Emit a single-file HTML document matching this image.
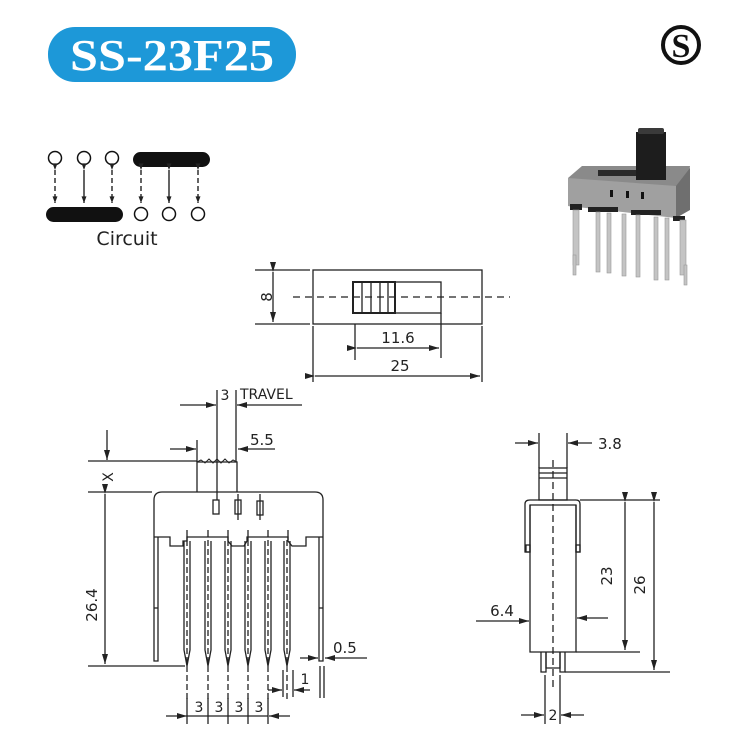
<!DOCTYPE html>
<html><head><meta charset="utf-8"><style>
html,body{margin:0;padding:0;background:#fff;}
svg{display:block;}
text{font-family:"DejaVu Sans","Liberation Sans",sans-serif;fill:#222;}
</style></head><body>
<svg width="735" height="744" viewBox="0 0 735 744" xmlns="http://www.w3.org/2000/svg">
<defs>
<marker id="a" viewBox="0 0 10 6" refX="10" refY="3" markerWidth="10" markerHeight="6" orient="auto" markerUnits="userSpaceOnUse"><path d="M0,0 L10,3 L0,6 Z" fill="#222"/></marker>
<marker id="s" viewBox="0 0 8 6" refX="8" refY="3" markerWidth="7" markerHeight="5" orient="auto" markerUnits="userSpaceOnUse"><path d="M0,0 L8,3 L0,6 Z" fill="#222"/></marker>
</defs>
<!-- title -->
<rect x="48" y="27" width="248" height="55" rx="27" fill="#1d98d8"/>
<text x="70" y="70" textLength="204" lengthAdjust="spacingAndGlyphs" style="font-family:'Liberation Serif',serif;font-weight:bold;font-size:44px;fill:#fff">SS-23F25</text>
<!-- S logo -->
<circle cx="681" cy="45" r="18" fill="none" stroke="#111" stroke-width="4"/>
<text x="681" y="57" text-anchor="middle" style="font-family:'Liberation Serif',serif;font-weight:bold;font-size:34px;fill:#111">S</text>

<!-- circuit -->
<g stroke="#111" stroke-width="1.5" fill="none">
<circle cx="55" cy="158" r="6.5"/><circle cx="84" cy="158" r="6.5"/><circle cx="112" cy="158" r="6.5"/>
<circle cx="141" cy="214" r="6.5"/><circle cx="169" cy="214" r="6.5"/><circle cx="198" cy="214" r="6.5"/>
</g>
<rect x="133" y="152" width="77" height="15" rx="7.5" fill="#111"/>
<rect x="46" y="207" width="77" height="15" rx="7.5" fill="#111"/>
<g stroke="#111" stroke-width="1.3">
<line x1="55" y1="170" x2="55" y2="203" stroke-dasharray="5,3" marker-start="url(#s)" marker-end="url(#s)"/>
<line x1="84" y1="170" x2="84" y2="203" marker-start="url(#s)" marker-end="url(#s)"/>
<line x1="112" y1="170" x2="112" y2="203" stroke-dasharray="5,3" marker-start="url(#s)" marker-end="url(#s)"/>
<line x1="141" y1="170" x2="141" y2="203" stroke-dasharray="5,3" marker-start="url(#s)" marker-end="url(#s)"/>
<line x1="169" y1="170" x2="169" y2="203" marker-start="url(#s)" marker-end="url(#s)"/>
<line x1="198" y1="170" x2="198" y2="203" stroke-dasharray="5,3" marker-start="url(#s)" marker-end="url(#s)"/>
</g>
<text x="127" y="245" text-anchor="middle" font-size="19">Circuit</text>

<!-- photo -->
<g>
<polygon points="568,178 582,166 690,166 688,182 678,216 568,206" fill="#8a8a8a"/>
<polygon points="568,178 676,186 676,218 568,206" fill="#a0a0a0"/>
<polygon points="676,186 690,168 690,210 676,218" fill="#6f6f6f"/>
<rect x="598" y="170" width="40" height="6" fill="#2a2a2a"/>
<rect x="636" y="132" width="30" height="48" fill="#1d1d1d"/>
<rect x="638" y="128" width="26" height="6" rx="2" fill="#3a3a3a"/>
<rect x="610" y="190" width="3" height="7" fill="#111"/><rect x="626" y="191" width="3" height="7" fill="#111"/><rect x="641" y="192" width="3" height="7" fill="#111"/>
<rect x="570" y="204" width="12" height="6" fill="#222"/><rect x="588" y="207" width="30" height="5" fill="#222"/><rect x="631" y="210" width="30" height="5" fill="#222"/><rect x="673" y="216" width="12" height="5" fill="#222"/>
<g fill="#c4c4c4" stroke="#999" stroke-width="0.6">
<rect x="573" y="210" width="6" height="55"/><rect x="573" y="255" width="3" height="20"/>
<rect x="596" y="212" width="4" height="60"/><rect x="607" y="213" width="4" height="60"/><rect x="622" y="214" width="4" height="62"/>
<rect x="636" y="215" width="4" height="62"/><rect x="654" y="217" width="4" height="63"/><rect x="665" y="218" width="4" height="62"/>
<rect x="680" y="220" width="6" height="55"/><rect x="684" y="265" width="3" height="20"/>
</g>
</g>

<!-- top view -->
<g stroke="#222" stroke-width="1.3" fill="none">
<rect x="313" y="270" width="169" height="54"/>
<rect x="353" y="282" width="88" height="31"/>
<rect x="353" y="282" width="42" height="31" stroke-width="2"/>
<line x1="362" y1="282" x2="362" y2="313"/><line x1="371" y1="282" x2="371" y2="313"/><line x1="380" y1="282" x2="380" y2="313"/><line x1="388" y1="282" x2="388" y2="313"/>
<line x1="293" y1="297" x2="510" y2="297" stroke-dasharray="7,5"/>
<line x1="255" y1="270" x2="310" y2="270"/><line x1="255" y1="324" x2="310" y2="324"/>
<line x1="273" y1="272" x2="273" y2="322" marker-start="url(#a)" marker-end="url(#a)"/>
<line x1="355" y1="324" x2="355" y2="360"/><line x1="441" y1="313" x2="441" y2="358"/>
<line x1="357" y1="348" x2="439" y2="348" marker-start="url(#a)" marker-end="url(#a)"/>
<line x1="313" y1="326" x2="313" y2="382"/><line x1="482" y1="326" x2="482" y2="382"/>
<line x1="315" y1="376" x2="480" y2="376" marker-start="url(#a)" marker-end="url(#a)"/>
</g>
<text x="267" y="297" font-size="15" text-anchor="middle" transform="rotate(-90 267 297)" dy="5">8</text>
<text x="398" y="343" font-size="15" text-anchor="middle">11.6</text>
<text x="400" y="371" font-size="15" text-anchor="middle">25</text>

<!-- front view -->
<g stroke="#222" stroke-width="1.3" fill="none">
<path d="M154,537 L154,500 Q154,492 162,492 L315,492 Q323,492 323,500 L323,537"/>
<path d="M154,537 L170,537 L170,546 L183,546 L183,541 L187,541 L187,537 L228,537 L228,541 L232,546 L244,546 L247,541 L247,537 L288,537 L288,541 L292,546 L306,546 L306,537 L323,537"/>
<path d="M154,537 L154,661 L158,661 L158,537"/>
<path d="M319,537 L319,661 L323,661 L323,537"/>
<line x1="154" y1="608" x2="158" y2="608"/><line x1="319" y1="608" x2="323" y2="608"/>
<path d="M197,492 L197,462 L237,462 L237,492"/>
<path d="M197,462 L201,460 L205,463 L209,459 L213,463 L217,459 L221,463 L225,459 L229,463 L233,460 L237,462" stroke-width="1"/>
<rect x="213" y="500" width="6" height="14"/><rect x="235" y="500" width="6" height="14"/><rect x="257" y="501" width="6" height="14"/>
<line x1="238" y1="494" x2="238" y2="520"/><line x1="260" y1="494" x2="260" y2="520"/>
<line x1="187" y1="530" x2="187" y2="540"/><line x1="228" y1="530" x2="228" y2="540"/><line x1="208" y1="530" x2="208" y2="537"/>
<line x1="248" y1="530" x2="248" y2="540"/><line x1="288" y1="530" x2="288" y2="540"/><line x1="268" y1="530" x2="268" y2="537"/>
<g id="pin">
<path d="M184,541 L184,650 L187,666 L190,650 L190,541"/>
</g>
<use href="#pin" x="21"/><use href="#pin" x="41"/><use href="#pin" x="61"/><use href="#pin" x="81"/><use href="#pin" x="100"/>
<g stroke-dasharray="6,3">
<line x1="187" y1="540" x2="187" y2="700"/><line x1="208" y1="540" x2="208" y2="700"/><line x1="228" y1="540" x2="228" y2="700"/>
<line x1="248" y1="540" x2="248" y2="700"/><line x1="268" y1="540" x2="268" y2="700"/><line x1="287" y1="540" x2="287" y2="700"/>
</g>
<line x1="187" y1="698" x2="187" y2="724"/><line x1="208" y1="698" x2="208" y2="724"/><line x1="228" y1="698" x2="228" y2="724"/><line x1="248" y1="698" x2="248" y2="724"/><line x1="268" y1="698" x2="268" y2="724"/>
<line x1="166" y1="716" x2="187" y2="716" marker-end="url(#a)"/>
<line x1="290" y1="716" x2="269" y2="716" marker-end="url(#a)"/>
<line x1="187" y1="716" x2="268" y2="716"/>
<!-- dims -->
<line x1="88" y1="492" x2="152" y2="492"/><line x1="88" y1="666" x2="185" y2="666"/>
<line x1="105" y1="494" x2="105" y2="664" marker-start="url(#a)" marker-end="url(#a)"/>
<line x1="88" y1="461" x2="197" y2="461"/>
<line x1="107" y1="430" x2="107" y2="460" marker-end="url(#a)"/>
<line x1="217" y1="390" x2="217" y2="500"/><line x1="236" y1="390" x2="236" y2="462"/>
<line x1="180" y1="405" x2="216" y2="405" marker-end="url(#a)"/>
<line x1="302" y1="405" x2="237" y2="405" marker-end="url(#a)"/>
<line x1="197" y1="440" x2="197" y2="462"/>
<line x1="170" y1="449" x2="196" y2="449" marker-end="url(#a)"/>
<line x1="275" y1="449" x2="238" y2="449" marker-end="url(#a)"/>
<line x1="283" y1="670" x2="283" y2="697"/><line x1="293" y1="670" x2="293" y2="697"/>
<line x1="268" y1="690" x2="282" y2="690" marker-end="url(#a)"/>
<line x1="310" y1="690" x2="294" y2="690" marker-end="url(#a)"/>
<line x1="320" y1="666" x2="320" y2="698"/><line x1="324" y1="666" x2="324" y2="698"/>
<line x1="300" y1="658" x2="318" y2="658" marker-end="url(#a)"/>
<line x1="367" y1="658" x2="325" y2="658" marker-end="url(#a)"/>
</g>
<text x="225" y="400" font-size="14" text-anchor="middle">3</text>
<text x="240" y="399" font-size="14">TRAVEL</text>
<text x="250" y="445" font-size="15">5.5</text>
<text x="113" y="477" font-size="14" text-anchor="middle" transform="rotate(-90 113 477)" dy="0">X</text>
<text x="97" y="605" font-size="15" text-anchor="middle" transform="rotate(-90 97 605)">26.4</text>
<text x="199" y="712" font-size="14" text-anchor="middle">3</text>
<text x="219" y="712" font-size="14" text-anchor="middle">3</text>
<text x="239" y="712" font-size="14" text-anchor="middle">3</text>
<text x="259" y="712" font-size="14" text-anchor="middle">3</text>
<text x="305" y="684" font-size="14" text-anchor="middle">1</text>
<text x="333" y="653" font-size="15">0.5</text>

<!-- side view -->
<g stroke="#222" stroke-width="1.3" fill="none">
<rect x="539" y="468" width="28" height="32"/>
<line x1="539" y1="473" x2="567" y2="473"/><line x1="539" y1="478" x2="567" y2="478"/>
<path d="M525,504 Q525,500 530,500 L576,500 Q580,500 580,504 L580,552 L576,552 L576,505 L530,505 L530,552 L525,552 Z"/>
<rect x="526" y="545" width="4" height="7"/><rect x="576" y="545" width="4" height="7"/>
<path d="M530,505 L530,652 L576,652 L576,505"/>
<path d="M541,652 L541,672 L546,672 L546,652"/><path d="M560,652 L560,672 L565,672 L565,652"/>
<path d="M546,652 L546,668 L560,668 L560,652"/>
<line x1="553" y1="460" x2="553" y2="690" stroke-dasharray="7,4"/>
<line x1="539" y1="433" x2="539" y2="468"/><line x1="567" y1="433" x2="567" y2="468"/>
<line x1="515" y1="443" x2="538" y2="443" marker-end="url(#a)"/>
<line x1="592" y1="443" x2="568" y2="443" marker-end="url(#a)"/>
<line x1="580" y1="500" x2="660" y2="500"/>
<line x1="576" y1="652" x2="640" y2="652"/>
<line x1="565" y1="672" x2="670" y2="672"/>
<line x1="625" y1="502" x2="625" y2="650" marker-start="url(#a)" marker-end="url(#a)"/>
<line x1="654" y1="502" x2="654" y2="670" marker-start="url(#a)" marker-end="url(#a)"/>
<line x1="476" y1="621" x2="529" y2="621" marker-end="url(#a)"/>
<line x1="608" y1="618" x2="577" y2="618" marker-end="url(#a)"/>
<line x1="545" y1="675" x2="545" y2="724"/><line x1="560" y1="675" x2="560" y2="724"/>
<line x1="521" y1="715" x2="544" y2="715" marker-end="url(#a)"/>
<line x1="584" y1="715" x2="561" y2="715" marker-end="url(#a)"/>
</g>
<text x="598" y="449" font-size="15">3.8</text>
<text x="612" y="576" font-size="15" text-anchor="middle" transform="rotate(-90 612 576)">23</text>
<text x="645" y="585" font-size="15" text-anchor="middle" transform="rotate(-90 645 585)">26</text>
<text x="502" y="616" font-size="15" text-anchor="middle">6.4</text>
<text x="553" y="720" font-size="14" text-anchor="middle">2</text>
</svg>
</body></html>
